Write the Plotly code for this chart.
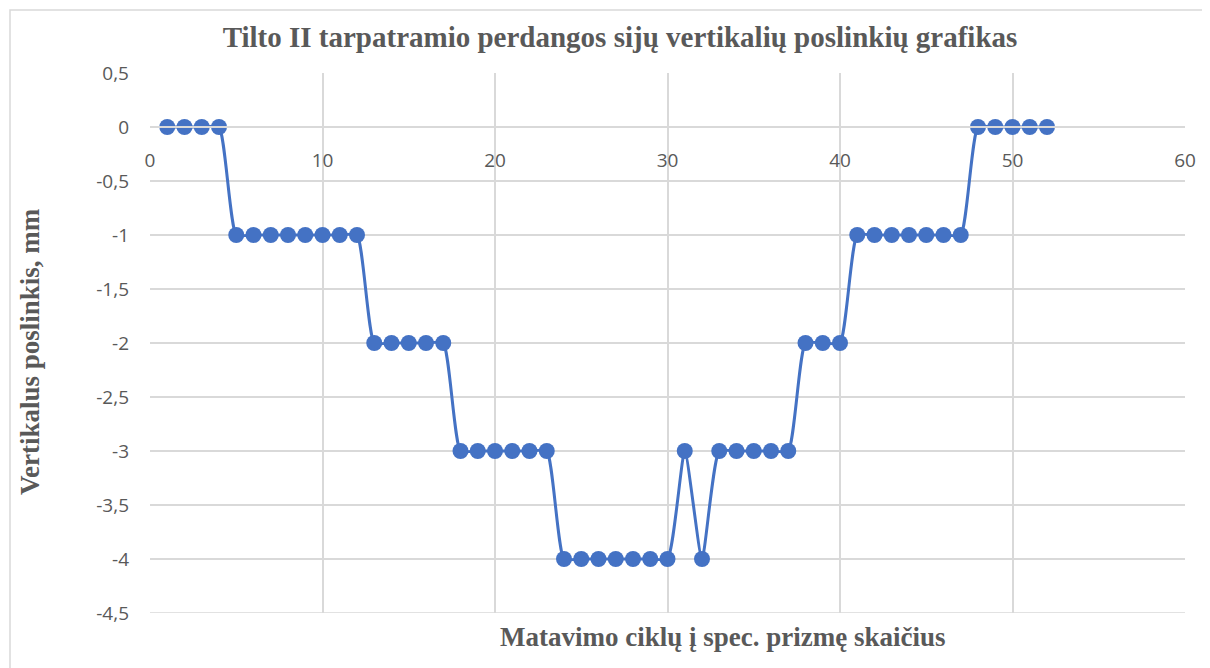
import plotly.graph_objects as go

cycles = list(range(1, 53))
displacement = ([0] * 4 + [-1] * 8 + [-2] * 5 + [-3] * 6 + [-4] * 7 +
                [-3, -4] + [-3] * 5 + [-2] * 3 + [-1] * 7 + [0] * 5)

y_ticks = [0.5, 0, -0.5, -1, -1.5, -2, -2.5, -3, -3.5, -4, -4.5]
y_labels = ["0,5", "0", "-0,5", "-1", "-1,5", "-2", "-2,5", "-3", "-3,5", "-4", "-4,5"]
x_ticks = [0, 10, 20, 30, 40, 50, 60]

title_text = "Tilto II tarpatramio perdangos sijų vertikalių poslinkių grafikas"
x_title = "Matavimo ciklų į spec. prizmę skaičius"
y_title = "Vertikalus poslinkis, mm"

BLUE = "#4472C4"
GRID = "#d9d9d9"
TXT = "#595959"

OFF = 8  # page body margin
W, H = 1210, 668
SL, SR, ST, SB = 150, 1185, 73, 613
L = SL - OFF
T = ST - OFF
R = W - (SR - OFF)
B = H - (SB - OFF)
pw, ph = SR - SL, SB - ST


def px_x(sx):
    return (sx - SL) / pw


def px_y(sy):
    return (SB - sy) / ph


fig = go.Figure()
fig.add_trace(go.Scatter(
    x=cycles, y=displacement, mode="lines+markers",
    line=dict(color=BLUE, width=3, shape="spline", smoothing=0.5),
    marker=dict(color=BLUE, size=16),
    showlegend=False, cliponaxis=False,
))

y_min, y_max = -4.5, 0.5
zero_pos = (0 - y_min) / (y_max - y_min)

fig.update_layout(
    width=W, height=H,
    margin=dict(l=L, r=R, t=T, b=B),
    paper_bgcolor="white", plot_bgcolor="white",
    title=dict(text="<b>" + title_text + "</b>", x=px_x(620), xref="paper",
               xanchor="center", y=1 - (37 - OFF) / H, yanchor="middle",
               font=dict(family="Liberation Serif", size=29, color=TXT)),
    xaxis=dict(range=[0, 60], tickvals=x_ticks, showgrid=True, gridcolor=GRID,
               gridwidth=1.5, zeroline=False, showline=True, linecolor=GRID,
               linewidth=1.5, anchor="free", position=zero_pos, ticks="",
               ticklabelstandoff=16,
               tickfont=dict(family="Open Sans", size=19, color=TXT)),
    yaxis=dict(range=[y_min, y_max], tickvals=y_ticks, ticktext=y_labels,
               showgrid=True, gridcolor=GRID, gridwidth=1.5, zeroline=False,
               showline=False, ticks="", ticklabelstandoff=20,
               tickfont=dict(family="Open Sans", size=19, color=TXT)),
    font=dict(family="Open Sans", color=TXT),
)

fig.add_annotation(text="<b>" + x_title + "</b>", xref="paper", yref="paper",
                   x=px_x(722), y=px_y(637),
                   xanchor="center", yanchor="middle", showarrow=False,
                   font=dict(family="Liberation Serif", size=27, color=TXT))
fig.add_annotation(text="<b>" + y_title + "</b>", xref="paper", yref="paper",
                   x=px_x(30), y=px_y(352), textangle=-90,
                   xanchor="center", yanchor="middle", showarrow=False,
                   font=dict(family="Liberation Serif", size=27, color=TXT))

fig.add_shape(type="rect", xref="paper", yref="paper",
              x0=px_x(10), x1=px_x(W + 10),
              y0=px_y(H + 10), y1=px_y(10),
              line=dict(color=GRID, width=1.5), fillcolor="rgba(0,0,0,0)",
              layer="below")
fig.add_shape(type="line", xref="paper", yref="y", x0=0, x1=1, y0=y_min, y1=y_min,
              line=dict(color=GRID, width=1.5), layer="below")

fig.write_html("out.html")
